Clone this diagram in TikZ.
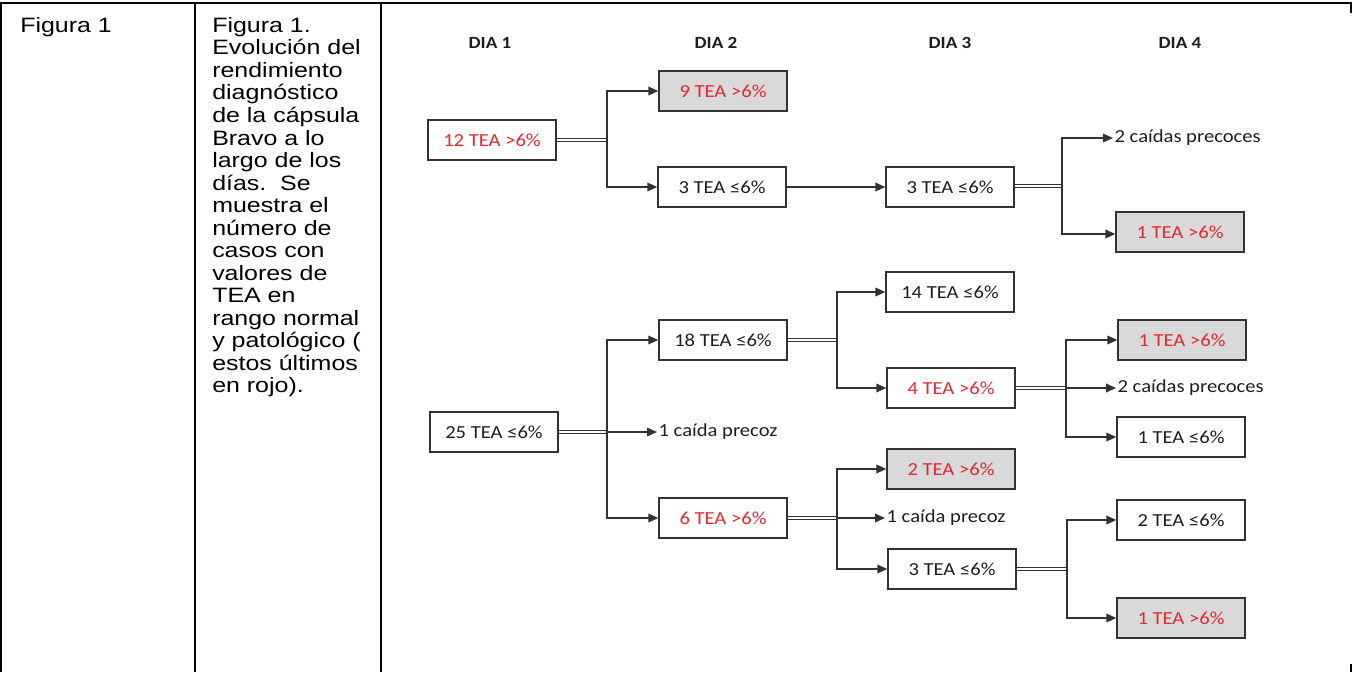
\documentclass[tikz,border=0pt]{standalone}
\usepackage{fontspec}
\setmainfont{Liberation Sans}[FakeStretch=1.2]
\newfontfamily\calfont{Carlito}[FakeStretch=1.12]
\usetikzlibrary{arrows.meta}
\definecolor{redc}{RGB}{226,40,48}
\definecolor{linec}{RGB}{50,50,50}
\definecolor{fillc}{RGB}{217,217,217}
\definecolor{txtc}{RGB}{30,30,30}
\tikzset{
  tline/.style={line width=1.1pt, black},
  tbox/.style={draw=linec, line width=1pt, minimum width=96pt, minimum height=30pt,
    inner sep=0pt, text=txtc, font=\calfont\fontsize{13.8}{15}\selectfont},
  hot/.style={tbox, text=redc},
  hotg/.style={tbox, fill=fillc, text=redc},
  lbl/.style={anchor=west, inner sep=1pt, text=txtc, font=\calfont\fontsize{13.8}{15}\selectfont},
  hdr/.style={inner sep=0pt, text=txtc, font=\calfont\bfseries\fontsize{12.8}{14}\selectfont},
  dbl/.style={draw=linec, double=white, double distance=1pt, line width=0.8pt},
  arr/.style={draw=linec, line width=1.05pt, -{Triangle[length=7.5pt,width=6.5pt]}},
  cell/.style={anchor=north west, inner sep=0pt, align=left,
    font=\fontsize{15.6}{16.9}\selectfont}
}
\begin{document}
\begin{tikzpicture}[x=0.75pt,y=-0.75pt]
\useasboundingbox (0,0) rectangle (1357,672);
% table
\draw[tline] (0,3) -- (1352,3);
\draw[tline] (1,3) -- (1,672);
\draw[tline] (195,3) -- (195,672);
\draw[tline] (381,3) -- (381,672);
\draw[tline] (1351,3) -- (1351,13);
\draw[tline] (1351,664) -- (1351,672);
\node[cell] (c1) at (20,17) {Figura 1};
\node[cell] (c2) at (212,17) {Figura 1.\\Evolución del\\rendimiento\\diagnóstico\\de la cápsula\\Bravo a lo\\largo de los\\días.\ \ Se\\muestra el\\número de\\casos con\\valores de\\TEA en\\rango normal\\y patológico (\\estos últimos\\en rojo).};
% headers
\node[hdr] (h1) at (490,43) {DIA 1};
\node[hdr] (h2) at (716,43) {DIA 2};
\node[hdr] (h3) at (950,43) {DIA 3};
\node[hdr] (h4) at (1180,43) {DIA 4};
% top tree
\node[hot]  (n12) at (492,140) {12 TEA >6\%};
\node[hotg] (n9)  at (723,91)  {9 TEA >6\%};
\node[tbox] (n3a) at (722,187) {3 TEA ≤6\%};
\node[tbox] (n3b) at (950,187) {3 TEA ≤6\%};
\node[lbl]  (c2a) at (1113,138) {2 caídas precoces};
\node[hotg] (n1a) at (1180,232) {1 TEA >6\%};
\coordinate (j1) at (607,140);
\coordinate (j2) at (1062,186);
\draw[dbl] (n12) -- (j1);
\draw[arr] (j1) |- (n9);
\draw[arr] (j1) |- (n3a);
\draw[arr] (n3a) -- (n3b);
\draw[dbl] (n3b.east |- j2) -- (j2);
\draw[arr] (j2) |- (c2a.west);
\draw[arr] (j2) |- (n1a.west |- 0,234);
% bottom tree
\node[tbox] (n25) at (494,432) {25 TEA ≤6\%};
\node[tbox] (n18) at (723,340) {18 TEA ≤6\%};
\node[lbl]  (c1a) at (657,432) {1 caída precoz};
\node[hot]  (n6)  at (723,518) {6 TEA >6\%};
\node[tbox] (n14) at (950,292) {14 TEA ≤6\%};
\node[hot]  (n4)  at (951,388) {4 TEA >6\%};
\node[hotg] (n2)  at (951,469) {2 TEA >6\%};
\node[lbl]  (c1b) at (885,518) {1 caída precoz};
\node[tbox] (n3c) at (952,569) {3 TEA ≤6\%};
\node[hotg] (n1b) at (1182,340) {1 TEA >6\%};
\node[lbl]  (c2b) at (1116,388) {2 caídas precoces};
\node[tbox] (n1c) at (1181,437) {1 TEA ≤6\%};
\node[tbox] (n2b) at (1181,520) {2 TEA ≤6\%};
\node[hotg] (n1d) at (1181,618) {1 TEA >6\%};
\coordinate (j3) at (607,432);
\coordinate (j4) at (837,340);
\coordinate (j5) at (837,518);
\coordinate (j6) at (1066,388);
\coordinate (j7) at (1067,569);
\draw[dbl] (n25) -- (j3);
\draw[arr] (j3) |- (n18);
\draw[arr] (j3) -- (c1a.west);
\draw[arr] (j3) |- (n6);
\draw[dbl] (n18) -- (j4);
\draw[arr] (j4) |- (n14);
\draw[arr] (j4) |- (n4);
\draw[dbl] (n6) -- (j5);
\draw[arr] (j5) |- (n2);
\draw[arr] (j5) -- (c1b.west);
\draw[arr] (j5) |- (n3c);
\draw[dbl] (n4) -- (j6);
\draw[arr] (j6) |- (n1b);
\draw[arr] (j6) -- (c2b.west);
\draw[arr] (j6) |- (n1c);
\draw[dbl] (n3c) -- (j7);
\draw[arr] (j7) |- (n2b);
\draw[arr] (j7) |- (n1d);
\end{tikzpicture}
\end{document}
